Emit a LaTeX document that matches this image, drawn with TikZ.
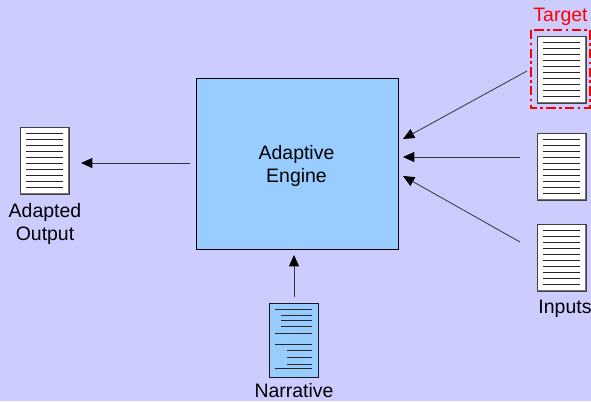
\documentclass[tikz,border=0pt]{standalone}
\usepackage{fontspec}
\setmainfont{Liberation Sans}
\usetikzlibrary{arrows.meta}
\definecolor{pagebg}{RGB}{204,204,255}
\definecolor{enginebg}{RGB}{153,204,255}
\tikzset{
  sheet/.style={draw=black!75,line width=0.6pt,minimum width=36.75pt,minimum height=50.25pt,inner sep=0pt,outer sep=0pt},
  rule/.style={line width=0.75pt,black!85},
  flow/.style={line width=0.6pt,black!80,-{Triangle[length=8.5pt,width=7.5pt,black]}},
  lbl/.style={font=\fontsize{14.6}{17.25}\selectfont,align=center,inner sep=0pt}
}
% plain sheet: name, centre x, centre y
\newcommand{\plainsheet}[3]{
\node[sheet,fill=white] (#1) at (#2,#3) {};
\draw[black!55,line width=0.6pt] ([shift={(-0.5,-1)}]#1.south west) -- ([shift={(-1,-1)}]#1.south east) -- ([shift={(-1,1)}]#1.north east);
\foreach \k in {-27,-21,...,27}
  \draw[rule] ([shift={(-18.5,\k)}]#1.center) -- ([shift={(18.5,\k)}]#1.center);
}
\begin{document}
\begin{tikzpicture}[x=0.75pt,y=-0.75pt]
\useasboundingbox[fill=pagebg] (0,0) rectangle (591,401);
\node[draw=black,line width=0.75pt,fill=enginebg,minimum width=151.5pt,minimum height=128.25pt,inner sep=0pt,outer sep=0pt] (engine) at (297,163.5) {};
\node[lbl] (enginetxt) at (296.5,166) {Adaptive\\Engine};
\plainsheet{target}{561.5}{69.5}
\plainsheet{inputa}{561.5}{166.5}
\plainsheet{inputb}{561.5}{257.5}
\plainsheet{output}{44.5}{160.5}
% narrative sheet has uneven rules
\node[sheet,fill=enginebg,draw=black!90,minimum height=55.5pt] (story) at (293.5,340) {};
\foreach \s/\k in {275/309.5,281/315.5,281/320.5,281/326,275/333.5,275/344,287/350,287/357,287/364,275/368}
  \draw[rule] (\s,\k) -- (312,\k);
\draw[red,line width=1.7pt,dash pattern=on 7pt off 2.5pt on 2pt off 2.5pt] (531,30) rectangle (590,108);
\node[lbl,red] (targettxt) at (560.5,16.5) {Target};
\node[lbl] (inputstxt) at (565,308.5) {Inputs};
\node[lbl] (outputtxt) at (45,223.5) {Adapted\\Output};
\node[lbl] (storytxt) at (294,391) {Narrative};
\coordinate (tgtfoot) at (527,71);
\coordinate (tgthead) at (403,139);
\coordinate (inafoot) at (520,157);
\coordinate (inahead) at (403,157);
\coordinate (inbfoot) at (520,242);
\coordinate (inbhead) at (403,176);
\coordinate (outfoot) at (190,163);
\coordinate (outhead) at (81,163);
\coordinate (stofoot) at (294,297);
\coordinate (stohead) at (294,255);
\draw[flow] (tgtfoot) -- (tgthead);
\draw[flow] (inafoot) -- (inahead);
\draw[flow] (inbfoot) -- (inbhead);
\draw[flow] (outfoot) -- (outhead);
\draw[flow] (stofoot) -- (stohead);
\end{tikzpicture}
\end{document}
